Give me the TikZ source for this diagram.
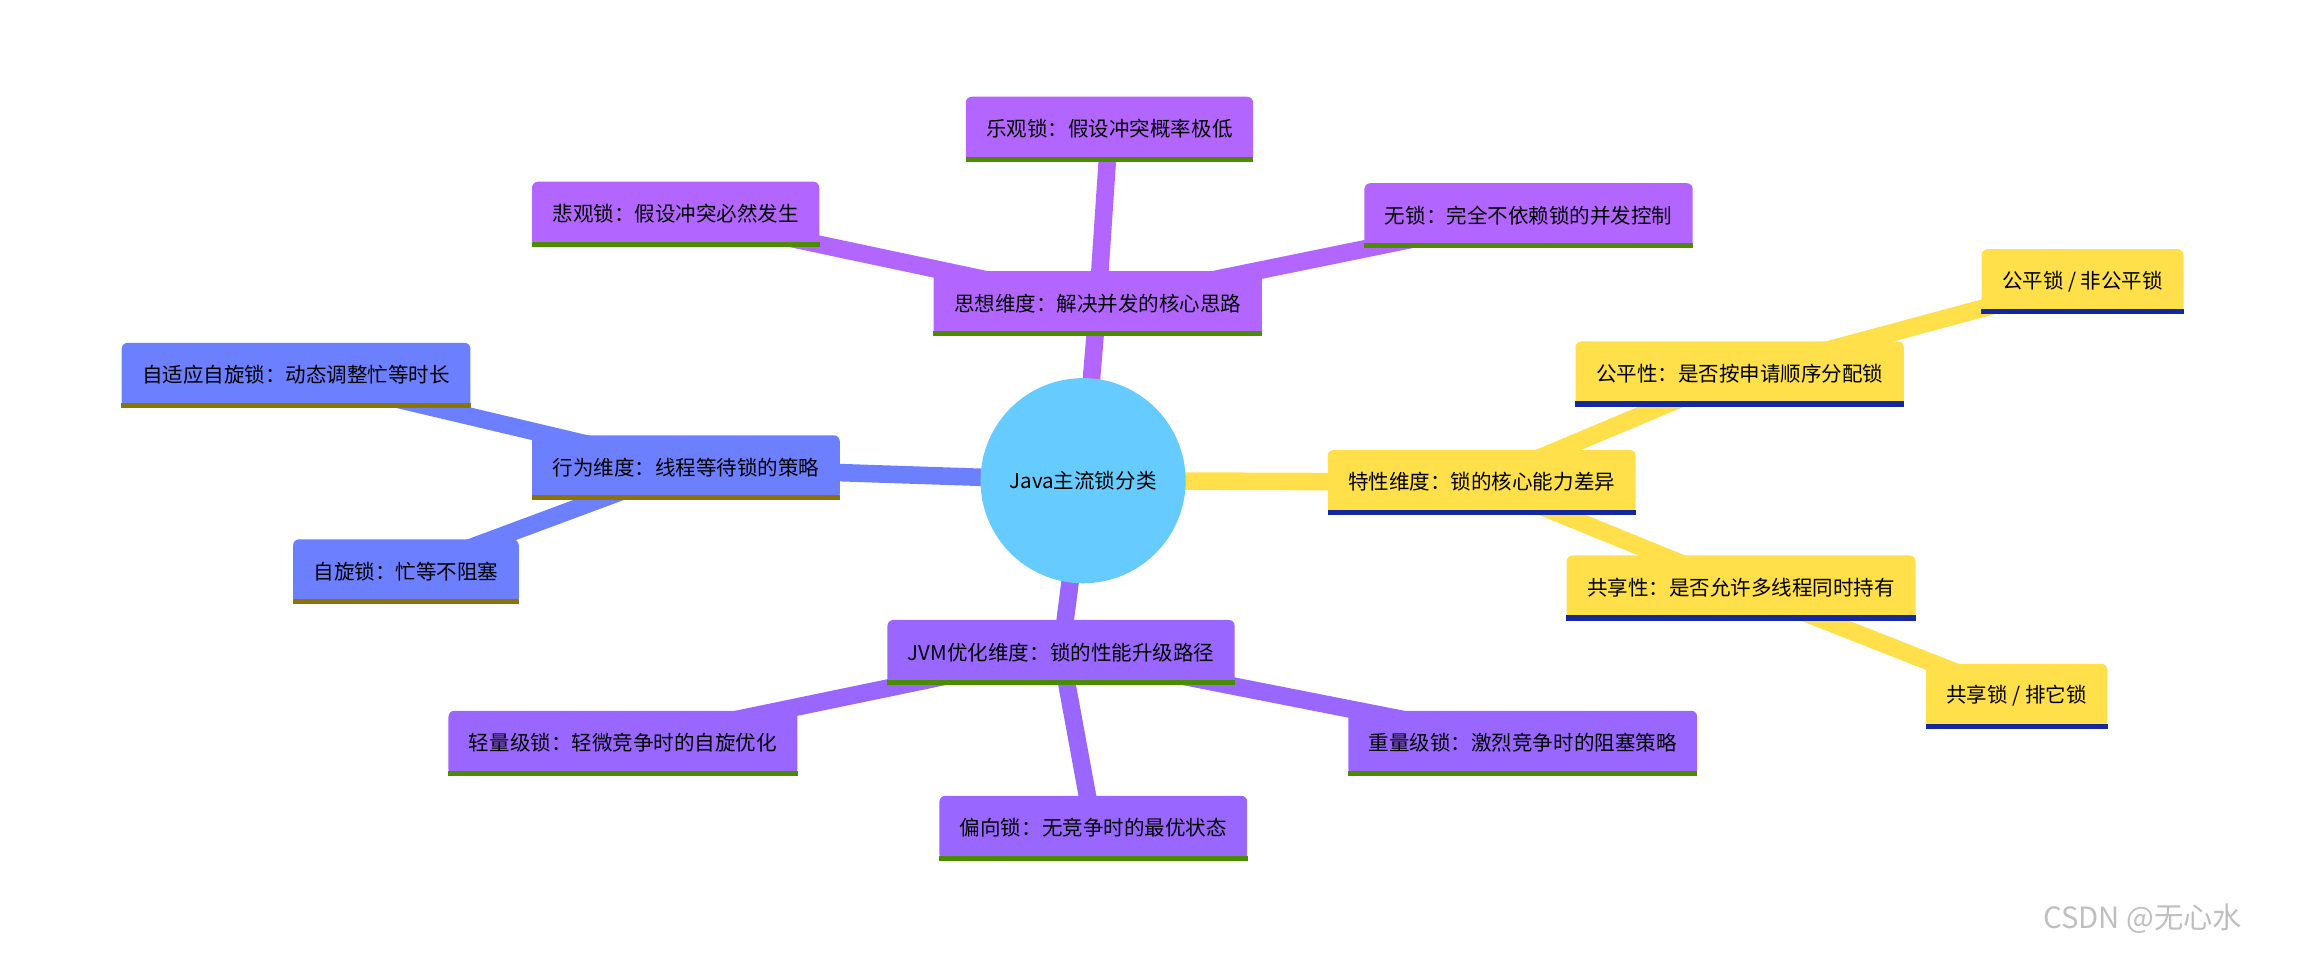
\documentclass[tikz,border=0pt]{standalone}
\usepackage{fontspec}
\setmainfont{Noto Sans CJK SC}
\definecolor{cthink}{HTML}{B366FF}
\definecolor{cjvm}{HTML}{9966FF}
\definecolor{cfeat}{HTML}{FFDF4A}
\definecolor{cbeh}{HTML}{6C80FF}
\definecolor{bgreen}{HTML}{4C8C00}
\definecolor{bblue}{HTML}{1428A0}
\definecolor{bolive}{HTML}{8B7500}
\definecolor{ccenter}{HTML}{66CCFF}
\tikzset{
  x=1pt,y=-1pt,
  box/.style={rectangle,rounded corners=4pt,fill=#1,minimum height=44pt,inner xsep=14pt,font=\fontsize{14}{17}\selectfont,text=black},
  link/.style={line width=12pt,draw=#1},
  ubar/.style={line width=3.5pt,draw=#1}
}
\newcommand{\ul}[2]{\draw[ubar=#2] ([yshift=1.5pt]#1.south west)--([yshift=1.5pt]#1.south east);}
\begin{document}
\begin{tikzpicture}
\useasboundingbox (0,0) rectangle (1568,652);
% connectors
\coordinate (cc) at (739,328);
\draw[link=cthink] (cc)--(749,207);
\draw[link=cthink] (749,207)--(757,88);
\draw[link=cthink] (749,207)--(461,146);
\draw[link=cthink] (749,207)--(1043,147);
\draw[link=cfeat] (cc)--(1011,329);
\draw[link=cfeat] (1011,329)--(1187,255);
\draw[link=cfeat] (1187,255)--(1421,192);
\draw[link=cfeat] (1011,329)--(1188,401);
\draw[link=cfeat] (1188,401)--(1376,475);
\draw[link=cbeh] (cc)--(468,319);
\draw[link=cbeh] (468,319)--(202,256);
\draw[link=cbeh] (468,319)--(277,390);
\draw[link=cjvm] (cc)--(724,445);
\draw[link=cjvm] (724,445)--(425,507);
\draw[link=cjvm] (724,445)--(746,565);
\draw[link=cjvm] (724,445)--(1039,507);
% nodes
\node[circle,fill=ccenter,minimum size=140pt,inner sep=0,font=\fontsize{14}{17}\selectfont] (c) at (739,328) {Java主流锁分类};
\node[box=cthink] (t) at (749,207) {思想维度：解决并发的核心思路}; \ul{t}{bgreen}
\node[box=cthink] (t1) at (757,88) {乐观锁：假设冲突概率极低}; \ul{t1}{bgreen}
\node[box=cthink] (t2) at (461,146) {悲观锁：假设冲突必然发生}; \ul{t2}{bgreen}
\node[box=cthink] (t3) at (1043,147) {无锁：完全不依赖锁的并发控制}; \ul{t3}{bgreen}
\node[box=cfeat] (f) at (1011,329) {特性维度：锁的核心能力差异}; \ul{f}{bblue}
\node[box=cfeat] (f1) at (1187,255) {公平性：是否按申请顺序分配锁}; \ul{f1}{bblue}
\node[box=cfeat] (f11) at (1421,192) {公平锁 / 非公平锁}; \ul{f11}{bblue}
\node[box=cfeat] (f2) at (1188,401) {共享性：是否允许多线程同时持有}; \ul{f2}{bblue}
\node[box=cfeat] (f21) at (1376,475) {共享锁 / 排它锁}; \ul{f21}{bblue}
\node[box=cbeh] (b) at (468,319) {行为维度：线程等待锁的策略}; \ul{b}{bolive}
\node[box=cbeh] (b1) at (202,256) {自适应自旋锁：动态调整忙等时长}; \ul{b1}{bolive}
\node[box=cbeh] (b2) at (277,390) {自旋锁：忙等不阻塞}; \ul{b2}{bolive}
\node[box=cjvm] (j) at (724,445) {JVM优化维度：锁的性能升级路径}; \ul{j}{bgreen}
\node[box=cjvm] (j1) at (425,507) {轻量级锁：轻微竞争时的自旋优化}; \ul{j1}{bgreen}
\node[box=cjvm] (j2) at (746,565) {偏向锁：无竞争时的最优状态}; \ul{j2}{bgreen}
\node[box=cjvm] (j3) at (1039,507) {重量级锁：激烈竞争时的阻塞策略}; \ul{j3}{bgreen}
\node[text=black!25,font=\fontsize{20}{24}\selectfont] (wm) at (1462,627) {CSDN @无心水};
\end{tikzpicture}
\end{document}
